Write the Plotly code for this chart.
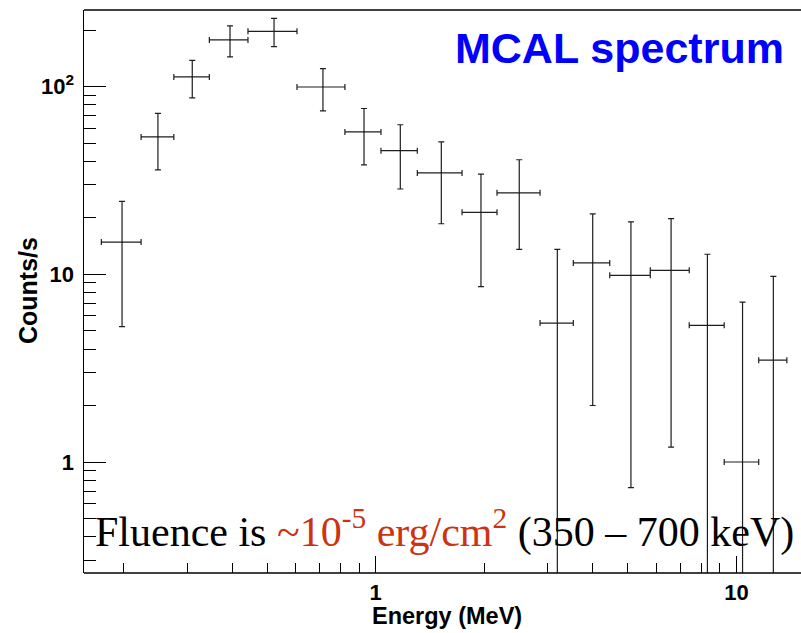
import plotly.graph_objects as go

# MCAL count spectrum: bin edges (MeV), rates (counts/s) and 1-sigma errors
bin_lo = [0.1735, 0.2236, 0.2756, 0.3457, 0.4424, 0.605, 0.8215, 1.034, 1.304,
          1.735, 2.169, 2.855, 3.53, 4.455, 5.77, 7.40, 9.25, 11.53]
bin_hi = [0.2236, 0.2756, 0.3457, 0.4424, 0.605, 0.8215, 1.034, 1.304, 1.735,
          2.169, 2.855, 3.53, 4.455, 5.77, 7.40, 9.25, 11.53, 13.8]
energy = [0.198, 0.249, 0.310, 0.3945, 0.5225, 0.714, 0.928, 1.170, 1.520,
          1.958, 2.50, 3.188, 3.996, 5.10, 6.59, 8.31, 10.4, 12.66]
rate = [14.86, 54.0, 112.7, 177.4, 197.3, 99.6, 57.4, 45.6, 34.7,
        21.4, 27.2, 5.50, 11.5, 9.88, 10.5, 5.35, 1.0, 3.49]
rate_err = [9.6, 18.0, 25.5, 33.3, 34.0, 25.3, 19.1, 17.1, 16.1,
            12.8, 13.6, 8.1, 9.5, 9.15, 9.3, 7.45, 6.12, 6.27]

x_major = [1, 10]
x_major_text = ["1", "10"]
x_minor = [0.2, 0.3, 0.4, 0.5, 0.6, 0.7, 0.8, 0.9,
           2, 3, 4, 5, 6, 7, 8, 9]
y_major = [1, 10, 100]
y_major_text = ["1", "10", "10<sup>2</sup>"]
y_minor = [0.3, 0.4, 0.5, 0.6, 0.7, 0.8, 0.9,
           2, 3, 4, 5, 6, 7, 8, 9,
           20, 30, 40, 50, 60, 70, 80, 90, 200]

err_plus_x = [h - c for h, c in zip(bin_hi, energy)]
err_minus_x = [c - l for c, l in zip(energy, bin_lo)]

W, H = 801, 633
L, R, T, B = 84, 4, 10, 60
pw, ph = W - L - R, H - T - B


def px(x):
    return (x - L) / pw


def py(y):
    return (H - B - y) / ph


line_col = "#1e1e1e"
fig = go.Figure()
fig.add_trace(go.Scatter(
    x=energy, y=rate, mode="markers",
    marker=dict(size=1, color=line_col),
    error_x=dict(type="data", array=err_plus_x, arrayminus=err_minus_x,
                 symmetric=False, color=line_col, thickness=1.2, width=3),
    error_y=dict(type="data", array=rate_err, symmetric=True,
                 color=line_col, thickness=1.2, width=3),
    showlegend=False,
))

tick_font = dict(family="Liberation Sans, Arial", size=22, color="black", weight="bold")

fig.update_xaxes(
    type="log", range=[-0.8088, 1.1680],
    tickmode="array", tickvals=x_major, ticktext=x_major_text,
    ticks="inside", ticklen=17, tickwidth=1, tickcolor="black",
    minor=dict(tickmode="array", tickvals=x_minor, ticks="inside",
               ticklen=10, tickwidth=1, tickcolor="black", showgrid=False),
    showline=False, showgrid=False, zeroline=False, tickfont=tick_font,
    ticklabelstandoff=4,
)
fig.update_yaxes(
    type="log", range=[-0.5914, 2.4086],
    tickmode="array", tickvals=y_major, ticktext=y_major_text,
    ticks="inside", ticklen=22, tickwidth=1, tickcolor="black",
    minor=dict(tickmode="array", tickvals=y_minor, ticks="inside",
               ticklen=12, tickwidth=1, tickcolor="black", showgrid=False),
    showline=True, linecolor="black", linewidth=1.5, mirror=False,
    showgrid=False, zeroline=False, tickfont=tick_font,
    ticklabelstandoff=4,
)

# top and bottom edges of the frame, running out to the page edge
edge = (W - L) / pw
fig.add_shape(type="line", xref="paper", yref="paper", x0=0, x1=edge, y0=1, y1=1,
              line=dict(color="black", width=1.5))
fig.add_shape(type="line", xref="paper", yref="paper", x0=0, x1=edge, y0=0, y1=0,
              line=dict(color="black", width=1.5))

fig.add_annotation(
    text="<b>MCAL spectrum</b>", x=px(619), y=py(48), xref="paper", yref="paper",
    xanchor="center", yanchor="middle", showarrow=False,
    font=dict(family="Liberation Sans, Arial", size=43, color="#0000ff"),
)
fig.add_annotation(
    text=("Fluence is <span style='color:#cc3311'>~10<sup>-5</sup> erg/cm<sup>2</sup></span>"
          " (350 \u2013 700 keV)"),
    x=px(93), y=py(529), xref="paper", yref="paper",
    xanchor="left", yanchor="middle", showarrow=False,
    font=dict(family="Liberation Serif, Times New Roman", size=42, color="black"),
)
fig.add_annotation(
    text="<b>Counts/s</b>", textangle=-90, x=px(28), y=py(291),
    xref="paper", yref="paper", xanchor="center", yanchor="middle",
    showarrow=False,
    font=dict(family="Liberation Sans, Arial", size=25, color="black"),
)
fig.add_annotation(
    text="<b>Energy (MeV)</b>", x=px(447), y=py(616),
    xref="paper", yref="paper", xanchor="center", yanchor="middle",
    showarrow=False,
    font=dict(family="Liberation Sans, Arial", size=23.5, color="black"),
)

fig.update_layout(
    width=W, height=H,
    margin=dict(l=L, r=R, t=T, b=B, pad=0),
    paper_bgcolor="white", plot_bgcolor="white",
)

fig.write_html("out.html", config={"staticPlot": True})
